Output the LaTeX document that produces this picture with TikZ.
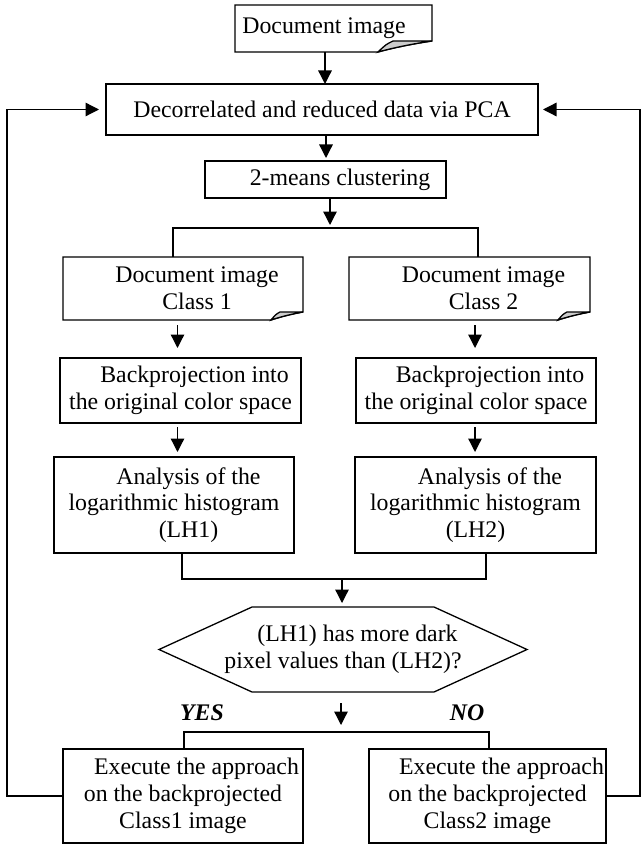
\documentclass[tikz,border=0pt]{standalone}
\usepackage{fontspec}
\setmainfont{Liberation Serif}
\usetikzlibrary{arrows.meta,calc}
\newcommand\docfold[3]{%
  \draw[ln] (#1.south west) -- (#1.north west) -- (#1.north east) -- ($(#1.south east)+(0,-#3)$)
    .. controls ($(#1.south east)+(-0.35*#2,-0.75*#3)$) and ($(#1.south east)+(-0.7*#2,-0.4*#3)$) .. ($(#1.south east)+(-#2,0)$) -- cycle;
  \filldraw[ln, fill=gray!40] ($(#1.south east)+(-#2,0)$)
    .. controls ($(#1.south east)+(-0.85*#2,-0.7*#3)$) .. ($(#1.south east)+(-0.72*#2,-#3)$)
    -- ($(#1.south east)+(0,-#3)$)
    .. controls ($(#1.south east)+(-0.35*#2,-0.75*#3)$) and ($(#1.south east)+(-0.7*#2,-0.4*#3)$) .. ($(#1.south east)+(-#2,0)$) -- cycle;
}
\begin{document}
\begin{tikzpicture}[x=1pt,y=-1pt,
  ln/.style={line width=1.3pt, line join=miter},
  arr/.style={ln, -{Triangle[length=13.5pt,width=13.5pt]}},
  txt/.style={font=\fontsize{23.8}{26.8}\selectfont, align=center, inner sep=0pt, outer sep=0pt},
  box/.style={txt, draw, ln, rectangle},
  plain/.style={txt, rectangle},
  ans/.style={font=\fontsize{23.8}{26.8}\selectfont\bfseries\itshape, inner sep=0pt}]
\useasboundingbox (0,0) rectangle (641,845);

% nodes
\node[plain, minimum width=197pt, minimum height=47pt] (doc0) at (333.5,28.5) {\hspace*{-19pt}Document image};
\node[box, minimum width=432pt, minimum height=51pt] (pca) at (322,109.5) {Decorrelated and reduced data via PCA};
\node[box, minimum width=241pt, minimum height=37pt] (km) at (325.5,179.5) {\hspace*{29pt}2-means clustering};
\node[plain, minimum width=240pt, minimum height=63pt] (d1) at (183,288.5) {\hspace*{28pt}Document image\\\hspace*{28pt}Class 1};
\node[plain, minimum width=241pt, minimum height=63pt] (d2) at (469.5,288.5) {\hspace*{28pt}Document image\\\hspace*{28pt}Class 2};
\node[box, minimum width=241pt, minimum height=65pt] (b1) at (180.5,390.5) {\hspace*{28pt}Backprojection into\\the original color space};
\node[box, minimum width=240pt, minimum height=65pt] (b2) at (476,390.5) {\hspace*{28pt}Backprojection into\\the original color space};
\node[box, minimum width=240pt, minimum height=96pt] (a1) at (174,505) {\hspace*{29pt}Analysis of the\\logarithmic histogram\\\hspace*{29pt}(LH1)};
\node[box, minimum width=241pt, minimum height=96pt] (a2) at (475.5,505) {\hspace*{29pt}Analysis of the\\logarithmic histogram\\(LH2)};
\node[plain, minimum width=368pt, minimum height=85pt] (hex) at (343,649.5) {\hspace*{29pt}(LH1) has more dark\\pixel values than (LH2)?};
\node[box, minimum width=240pt, minimum height=94pt] (e1) at (183,796) {\hspace*{27pt}Execute the approach\\on the backprojected\\Class1 image};
\node[box, minimum width=237pt, minimum height=94pt] (e2) at (487.5,796) {\hspace*{28pt}Execute the approach\\on the backprojected\\Class2 image};
\node[ans] (yes) at (202,713) {YES};
\node[ans] (no) at (467,713) {NO};

% document shapes
\docfold{doc0}{54}{11}
\docfold{d1}{32}{8}
\docfold{d2}{32}{8}
% hexagon
\draw[ln] (hex.west) -- ([xshift=93pt]hex.north west) -- ([xshift=-93pt]hex.north east) -- (hex.east)
  -- ([xshift=-93pt]hex.south east) -- ([xshift=93pt]hex.south west) -- cycle;

% helper coordinates
\coordinate (xa) at (325,0);
\coordinate (xb) at (326,0);
\coordinate (xc) at (330,0);
\coordinate (sp) at (0,228);
\coordinate (v1) at (173,0);
\coordinate (v2) at (478,0);
\coordinate (xd1) at (177.5,0);
\coordinate (xd2) at (475,0);
\coordinate (m1) at (182,0);
\coordinate (m2) at (486,0);
\coordinate (my) at (0,579);
\coordinate (xm) at (342,0);
\coordinate (xh) at (341,0);
\coordinate (s2y) at (0,732);
\coordinate (w1) at (184,0);
\coordinate (w2) at (489,0);
\coordinate (fl) at (7,0);
\coordinate (fr) at (640,0);

% connectors
\draw[arr] (doc0.south -| xa) -- (pca.north -| xa);
\draw[arr, shorten >=3pt] (pca.south -| xb) -- (km.north -| xb);
\draw[arr, shorten >=3pt] (km.south -| xc) -- (sp -| xc);
\draw[ln] (d1.north -| v1) -- (sp -| v1) -- (sp -| v2) -- (d2.north -| v2);
\draw[arr, shorten <=5pt, shorten >=10pt] (d1.south -| xd1) -- (b1.north -| xd1);
\draw[arr, shorten <=5pt, shorten >=10pt] (d2.south -| xd2) -- (b2.north -| xd2);
\draw[arr, shorten <=4pt, shorten >=5pt] (b1.south -| xd1) -- (a1.north -| xd1);
\draw[arr, shorten <=4pt, shorten >=5pt] (b2.south -| xd2) -- (a2.north -| xd2);
\draw[ln] (a1.south -| m1) -- (my -| m1) -- (my -| m2) -- (a2.south -| m2);
\draw[arr, shorten >=4pt] (my -| xm) -- (hex.north -| xm);
\draw[arr, shorten <=11pt, shorten >=7pt] (hex.south -| xh) -- (s2y -| xh);
\draw[ln] (e1.north -| w1) -- (s2y -| w1) -- (s2y -| w2) -- (e2.north -| w2);
\draw[arr, shorten >=7pt] (e1.west) -- (e1.west -| fl) -- (pca.west -| fl) -- (pca.west);
\draw[arr, shorten >=5pt] (e2.east) -- (e2.east -| fr) -- (pca.east -| fr) -- (pca.east);
\end{tikzpicture}
\end{document}
